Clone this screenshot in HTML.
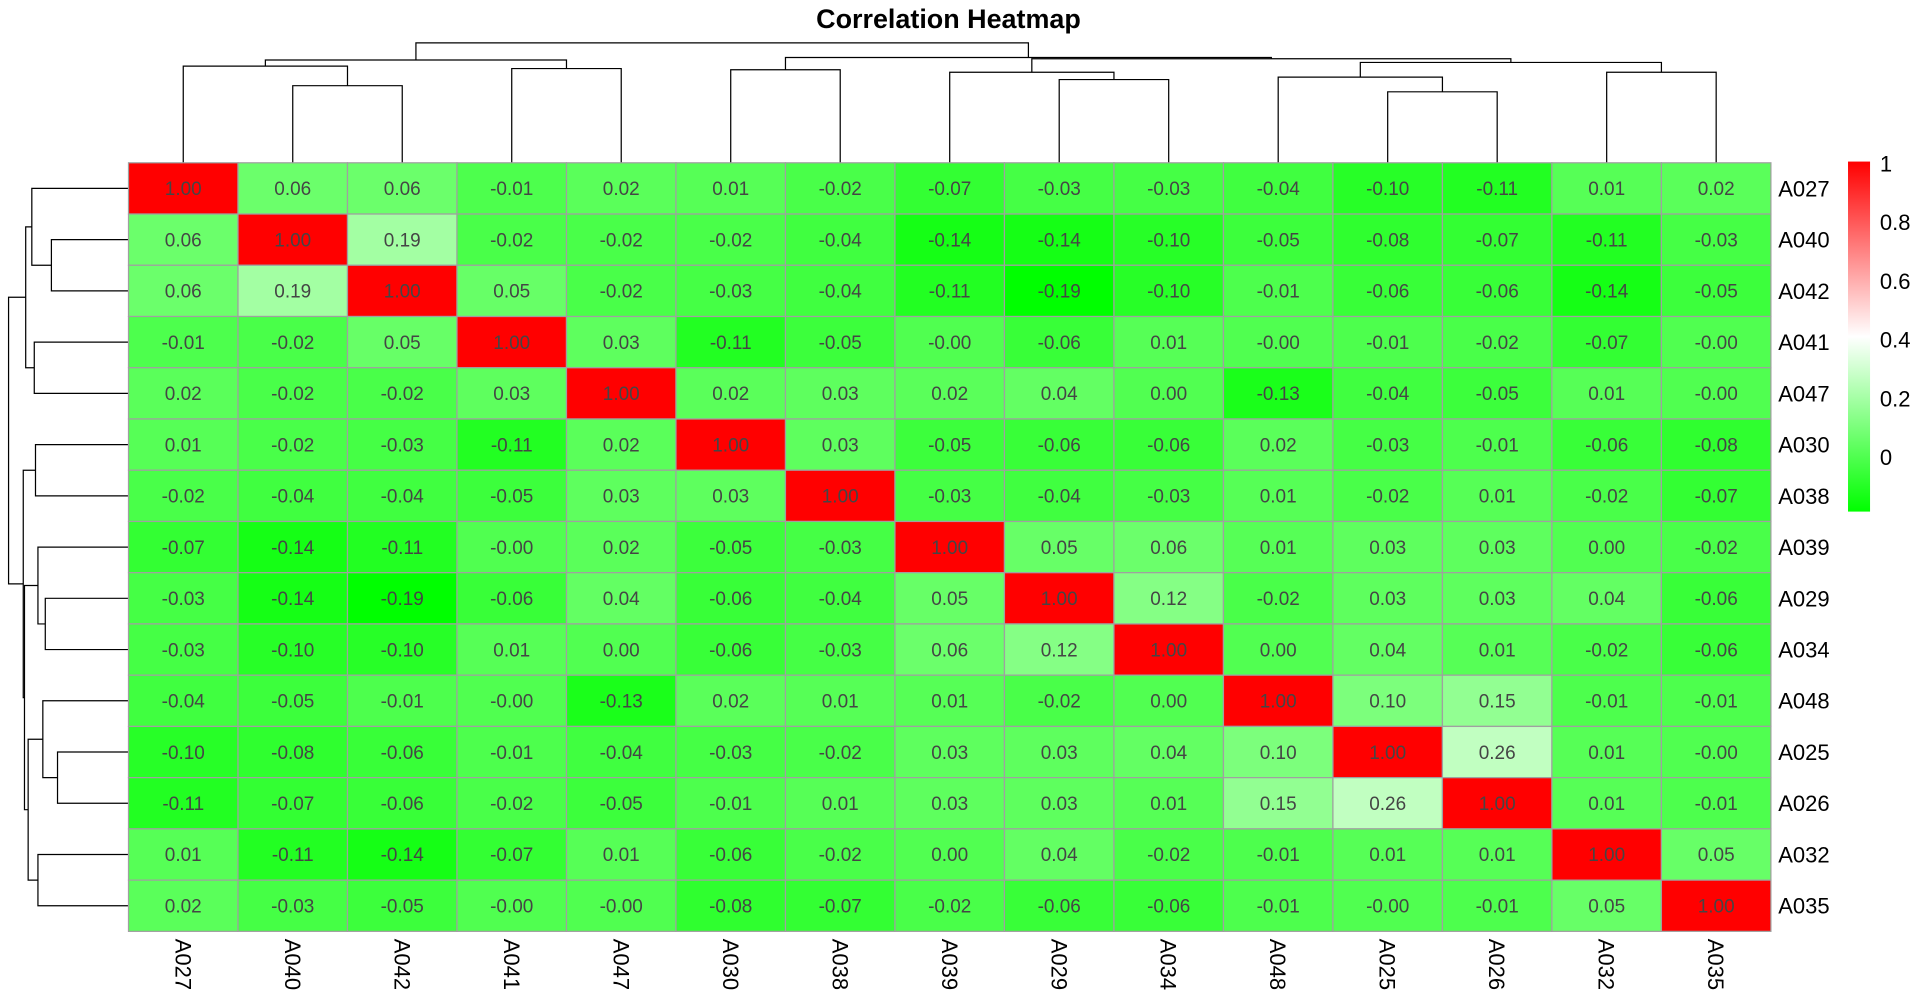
<!DOCTYPE html>
<html><head><meta charset="utf-8"><title>Correlation Heatmap</title>
<style>html,body{margin:0;padding:0;background:#fff;overflow:hidden}svg{display:block}</style></head>
<body>
<svg id="chart" width="1919" height="1008" viewBox="0 0 1568 823.6" xmlns="http://www.w3.org/2000/svg" font-family="Liberation Sans, Arial, sans-serif">
<text x="775" y="23" text-anchor="middle" font-size="22" font-weight="bold" fill="#000">Correlation Heatmap</text>
<g id="dendro-top"></g>
<g id="dendro-left"></g>
<g id="cells"></g>
<g id="rowlabels"></g>
<g id="collabels"></g>
<defs><linearGradient id="lg" x1="0" y1="0" x2="0" y2="1"><stop offset="0" stop-color="#ff0000"/><stop offset="0.5" stop-color="#ffffff"/><stop offset="1" stop-color="#00ff00"/></linearGradient></defs>
<g id="legend"><rect x="1510" y="132" width="18" height="286" fill="url(#lg)"/></g>
</svg>
<script>
const labels = ["A027","A040","A042","A041","A047","A030","A038","A039","A029","A034","A048","A025","A026","A032","A035"];
const values = [
[1.00,0.06,0.06,-0.01,0.02,0.01,-0.02,-0.07,-0.03,-0.03,-0.04,-0.10,-0.11,0.01,0.02],
[0.06,1.00,0.19,-0.02,-0.02,-0.02,-0.04,-0.14,-0.14,-0.10,-0.05,-0.08,-0.07,-0.11,-0.03],
[0.06,0.19,1.00,0.05,-0.02,-0.03,-0.04,-0.11,-0.19,-0.10,-0.01,-0.06,-0.06,-0.14,-0.05],
[-0.01,-0.02,0.05,1.00,0.03,-0.11,-0.05,-0.004,-0.06,0.01,-0.004,-0.01,-0.02,-0.07,-0.004],
[0.02,-0.02,-0.02,0.03,1.00,0.02,0.03,0.02,0.04,0.00,-0.13,-0.04,-0.05,0.01,-0.004],
[0.01,-0.02,-0.03,-0.11,0.02,1.00,0.03,-0.05,-0.06,-0.06,0.02,-0.03,-0.01,-0.06,-0.08],
[-0.02,-0.04,-0.04,-0.05,0.03,0.03,1.00,-0.03,-0.04,-0.03,0.01,-0.02,0.01,-0.02,-0.07],
[-0.07,-0.14,-0.11,-0.004,0.02,-0.05,-0.03,1.00,0.05,0.06,0.01,0.03,0.03,0.00,-0.02],
[-0.03,-0.14,-0.19,-0.06,0.04,-0.06,-0.04,0.05,1.00,0.12,-0.02,0.03,0.03,0.04,-0.06],
[-0.03,-0.10,-0.10,0.01,0.00,-0.06,-0.03,0.06,0.12,1.00,0.00,0.04,0.01,-0.02,-0.06],
[-0.04,-0.05,-0.01,-0.004,-0.13,0.02,0.01,0.01,-0.02,0.00,1.00,0.10,0.15,-0.01,-0.01],
[-0.10,-0.08,-0.06,-0.01,-0.04,-0.03,-0.02,0.03,0.03,0.04,0.10,1.00,0.26,0.01,-0.004],
[-0.11,-0.07,-0.06,-0.02,-0.05,-0.01,0.01,0.03,0.03,0.01,0.15,0.26,1.00,0.01,-0.01],
[0.01,-0.11,-0.14,-0.07,0.01,-0.06,-0.02,0.00,0.04,-0.02,-0.01,0.01,0.01,1.00,0.05],
[0.02,-0.03,-0.05,-0.004,-0.004,-0.08,-0.07,-0.02,-0.06,-0.06,-0.01,-0.004,-0.01,0.05,1.00]];
// merges: [a, b, height]; non-negative = leaf index, negative = -(merge index + 1)
const merges = [
[1,2,63],[0,-1,79],[3,4,77],[-2,-3,84],[5,6,76],[8,9,68],[7,-6,74],
[11,12,58],[10,-8,70],[13,14,74],[-9,-10,82],[-7,-11,85],[-5,-12,86],[-4,-13,98]];
const legendTicks = [0,0.2,0.4,0.6,0.8,1];
const vmin = -0.19, vmax = 1.0;

const NS = "http://www.w3.org/2000/svg";
const gx0 = 105, gx1 = 1447, gy0 = 133, gy1 = 761;
const n = labels.length, cw = (gx1-gx0)/n, ch = (gy1-gy0)/n;
const xc = i => gx0 + cw*(i+0.5), yc = i => gy0 + ch*(i+0.5);
function color(v){
  const mid=(vmin+vmax)/2; let r,g,b;
  if(v<=mid){const t=Math.max(0,(v-vmin)/(mid-vmin));r=Math.round(255*t);g=255;b=r;}
  else{const t=Math.min(1,(v-mid)/(vmax-mid));r=255;g=Math.round(255*(1-t));b=g;}
  return `rgb(${r},${g},${b})`;
}
function mk(tag, attrs, parent){const e=document.createElementNS(NS,tag);for(const k in attrs)e.setAttribute(k,attrs[k]);parent.appendChild(e);return e;}
const cells=document.getElementById('cells');
for(let r=0;r<n;r++)for(let c=0;c<n;c++){
  const v=values[r][c];
  const rect=mk('rect',{x:gx0+c*cw,y:gy0+r*ch,width:cw,height:ch,fill:color(v),stroke:'#a0a0a0','stroke-width':1},cells);
  
  
  const t=mk('text',{x:xc(c),y:yc(r)+5.5,'text-anchor':'middle','font-size':15.5,fill:'#454545'},cells);
  t.textContent=v.toFixed(2);
  
  
}
const rl=document.getElementById('rowlabels'), cl=document.getElementById('collabels');
labels.forEach((l,i)=>{
  const t=mk('text',{x:1453,y:yc(i)+6.5,'font-size':18,fill:'#000'},rl);t.textContent=l;
  
  
  const u=mk('text',{x:xc(i)-6.5,y:767,'font-size':18,fill:'#000',transform:`rotate(90 ${xc(i)-6.5} 767)`},cl);u.textContent=l;
  
  
});
const dt=document.getElementById('dendro-top'), dl=document.getElementById('dendro-left');
const pos=[], hts=[];
function nodePos(k){return k>=0?k:pos[-k-1];}
function nodeH(k){return k>=0?0:hts[-k-1];}
merges.forEach((m,i)=>{
  const pa=nodePos(m[0]), pb=nodePos(m[1]), ha=nodeH(m[0]), hb=nodeH(m[1]), h=m[2];
  pos.push((pa+pb)/2); hts.push(h);
  const xa=xc(pa), xb=xc(pb);
  const p=mk('path',{d:`M${xa},${gy0-ha}V${gy0-h}H${xb}V${gy0-hb}`,fill:'none',stroke:'#000','stroke-width':1},dt);
  
  
  const ya=yc(pa), yb=yc(pb);
  const q=mk('path',{d:`M${gx0-ha},${ya}H${gx0-h}V${yb}H${gx0-hb}`,fill:'none',stroke:'#000','stroke-width':1},dl);
  
  
});
const lg=document.getElementById('legend');
const ly = v => 374 - v*240;
legendTicks.forEach(v=>{
  const t=mk('text',{x:1536,y:ly(v)+6,'font-size':18,fill:'#000'},lg);t.textContent=String(v);
  
  
});
</script>
</body></html>
